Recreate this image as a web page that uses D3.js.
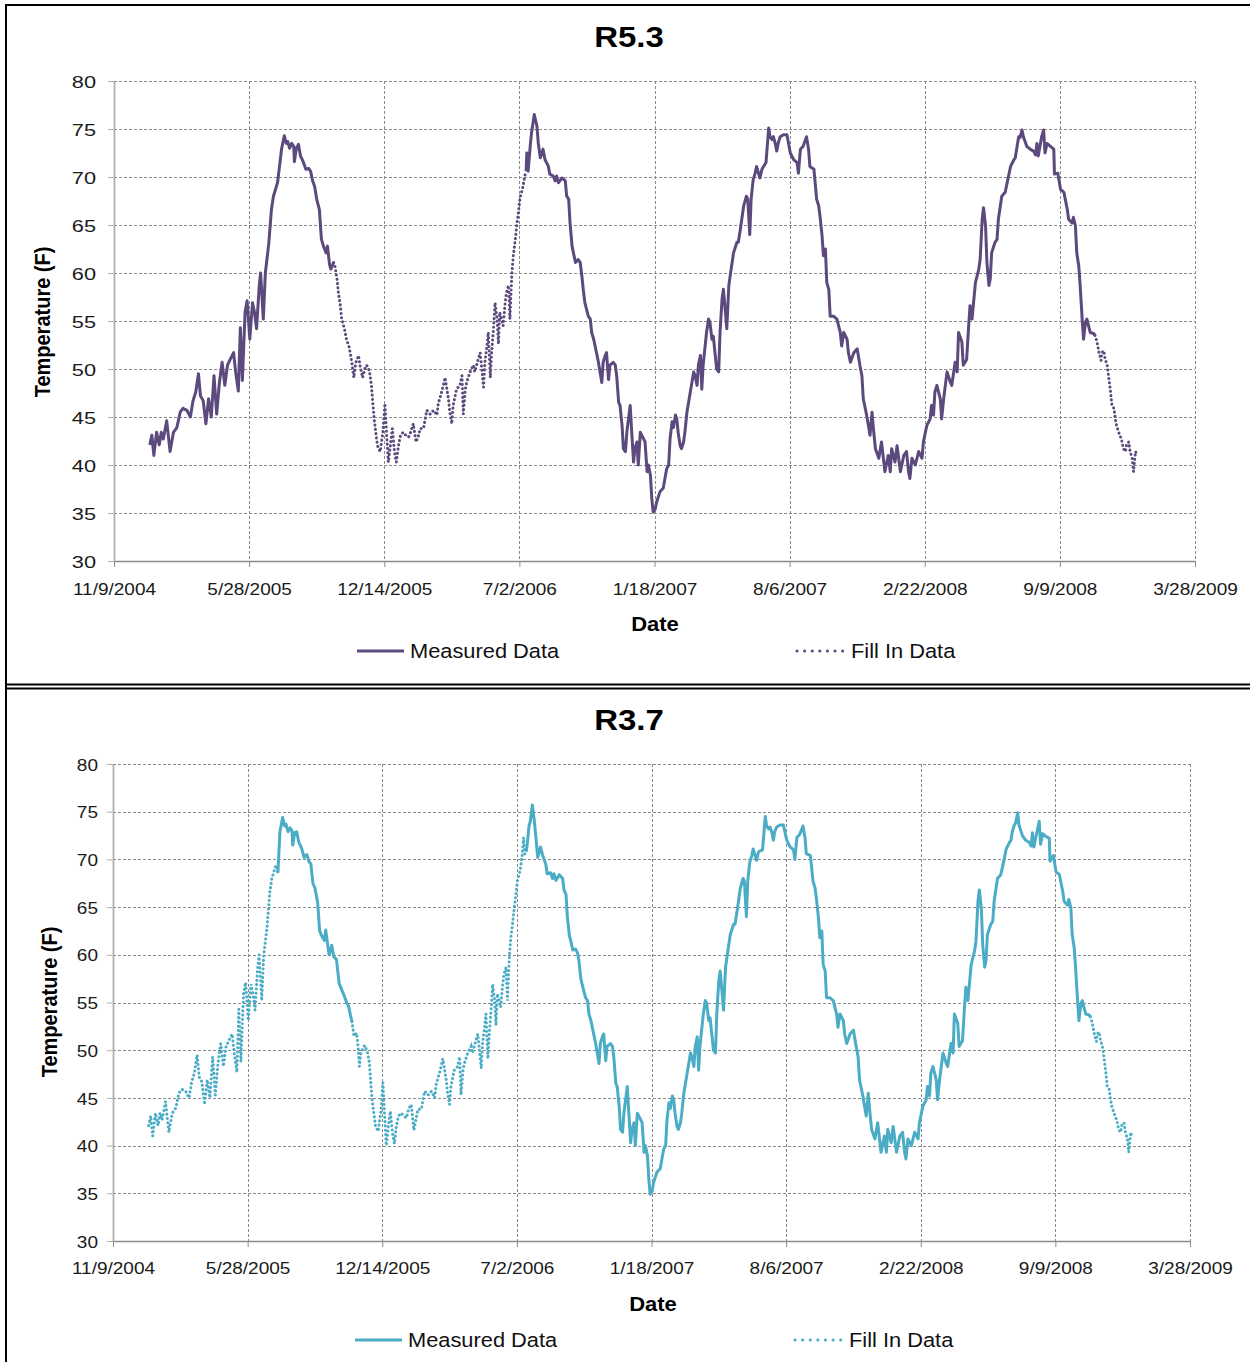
<!DOCTYPE html>
<html><head><meta charset="utf-8">
<script src="https://cdn.jsdelivr.net/npm/d3@7"></script>
<style>body{margin:0;background:#fff}svg{display:block}</style>
</head><body>
<svg id="c" width="1250" height="1362"></svg>
<script>
// ---------- DATA (Excel serial dates, temperature in F) ----------
const xTickSerials = [38300,38500,38700,38900,39100,39300,39500,39700,39900];
const xTickLabels = ["11/9/2004","5/28/2005","12/14/2005","7/2/2006","1/18/2007","8/6/2007","2/22/2008","9/9/2008","3/28/2009"];
const yTicks = [30,35,40,45,50,55,60,65,70,75,80];
const seriesNames = ["Measured Data","Fill In Data"];
const panelTitles = ["R5.3","R3.7"];

// R5.3 measured, segment 1
const r53Measured1 = [[38353,42.1],[38356,43.1],[38359,41.0],[38363,43.4],[38367,42.1],[38370,43.4],[38373,42.7],[38378,44.6],[38383,41.4],[38388,43.4],[38393,43.9],[38398,45.5],[38402,45.9],[38408,45.7],[38413,45.0],[38417,46.7],[38421,47.6],[38425,49.5],[38428,47.2],[38432,46.7],[38436,44.3],[38440,46.9],[38444,45.0],[38448,49.3],[38452,45.3],[38456,48.6],[38460,50.7],[38464,48.3],[38468,50.4],[38472,51.0],[38477,51.7],[38480,49.7],[38484,47.7],[38487,54.3],[38490,48.8],[38494,55.9],[38497,57.1],[38501,53.1],[38505,56.9],[38508,55.9],[38511,54.2],[38515,58.7],[38517,60.0],[38521,55.2],[38524,60.0],[38529,63.0],[38533,66.6],[38536,68.0],[38539,68.7],[38542,69.4],[38545,71.1],[38548,72.9],[38552,74.3],[38555,73.5],[38557,73.7],[38560,73.0],[38563,73.5],[38566,73.2],[38567,71.6],[38570,73.0],[38573,73.4],[38576,72.2],[38580,71.6],[38584,70.8],[38588,70.9],[38591,70.6],[38594,69.6],[38597,69.0],[38600,67.7],[38604,66.6],[38607,63.5],[38610,62.8],[38614,62.1],[38616,62.8],[38619,60.9],[38621,60.4],[38625,61.1]];
// R5.3 fill in, segment 1
const r53Fill1 = [[38625,61.1],[38627,60.7],[38630,59.4],[38632,58.0],[38635,56.6],[38637,55.2],[38641,54.2],[38644,53.1],[38648,52.3],[38652,50.7],[38655,49.1],[38658,50.7],[38662,51.4],[38664,50.4],[38668,49.1],[38671,50.0],[38674,50.4],[38678,49.8],[38681,48.3],[38683,46.5],[38685,44.8],[38688,43.1],[38690,42.0],[38694,41.4],[38698,43.4],[38701,46.4],[38703,43.8],[38706,40.3],[38709,42.0],[38712,43.8],[38715,41.4],[38718,40.3],[38721,42.0],[38724,43.1],[38728,43.4],[38732,43.1],[38736,42.9],[38739,43.4],[38743,44.3],[38747,42.4],[38751,43.1],[38753,43.8],[38758,43.8],[38763,45.7],[38768,45.3],[38773,45.7],[38778,45.2],[38780,46.4],[38785,47.6],[38790,49.1],[38795,46.9],[38797,45.5],[38800,44.3],[38802,46.2],[38807,47.9],[38812,48.3],[38815,49.3],[38817,45.3],[38820,47.9],[38822,48.6],[38827,49.7],[38832,50.4],[38834,49.7],[38839,51.0],[38842,51.7],[38847,48.1],[38849,50.7],[38852,52.4],[38854,53.8],[38857,49.1],[38859,51.7],[38862,54.5],[38864,56.9],[38867,55.2],[38869,52.6],[38871,55.9],[38876,54.5],[38879,56.9],[38881,58.0],[38884,58.7],[38886,55.2],[38889,60.0],[38891,61.8],[38894,63.5],[38896,64.9],[38899,66.6],[38901,67.8],[38905,68.9],[38908,70.1],[38910,70.6]];
// R5.3 measured, segment 2
const r53Measured2 = [[38910,70.6],[38911,72.5],[38913,70.6],[38916,73.2],[38918,74.6],[38922,76.5],[38926,75.3],[38928,73.5],[38931,72.0],[38935,72.9],[38938,71.8],[38943,71.1],[38945,70.3],[38950,70.1],[38953,69.6],[38955,70.1],[38958,69.4],[38963,69.9],[38968,69.6],[38970,68.0],[38973,67.7],[38975,65.2],[38978,62.8],[38980,62.1],[38983,61.1],[38987,61.4],[38990,61.1],[38992,60.0],[38995,58.0],[38997,56.9],[39002,55.5],[39005,55.2],[39007,53.8],[39010,53.1],[39015,51.4],[39017,50.7],[39022,48.6],[39024,50.7],[39027,51.4],[39029,51.7],[39032,48.9],[39034,50.4],[39039,50.7],[39042,50.4],[39044,49.3],[39047,46.5],[39049,46.2],[39052,44.1],[39054,41.7],[39057,41.4],[39059,43.4],[39064,46.2],[39066,43.8],[39069,40.3],[39071,41.7],[39074,42.4],[39076,40.0],[39079,43.4],[39084,42.7],[39086,42.4],[39089,39.3],[39091,40.0],[39094,38.9],[39096,36.5],[39098,35.1],[39101,35.4],[39103,36.1],[39108,37.2],[39113,37.6],[39118,39.6],[39121,40.0],[39123,42.7],[39126,44.5],[39128,43.9],[39131,45.2],[39133,44.8],[39135,43.4],[39138,42.0],[39140,41.7],[39143,42.4],[39145,43.4],[39148,45.5],[39153,47.6],[39158,49.7],[39160,49.3],[39163,48.3],[39165,50.4],[39168,51.4],[39170,47.9],[39172,50.4],[39177,53.8],[39180,55.2],[39182,54.9],[39185,53.1],[39187,53.4],[39190,51.4],[39192,50.0],[39195,49.7],[39197,53.8],[39200,57.3],[39202,58.3],[39205,55.9],[39207,54.2],[39210,58.7],[39212,59.7],[39217,62.1],[39222,63.2],[39224,63.2],[39227,64.5],[39232,67.0],[39236,68.0],[39238,67.7],[39241,64.0],[39243,67.7],[39246,69.7],[39249,70.4],[39251,71.1],[39256,69.9],[39259,70.8],[39265,71.5],[39269,75.1],[39271,74.2],[39274,73.9],[39276,74.2],[39279,73.4],[39281,72.7],[39283,73.5],[39286,74.2],[39291,74.4],[39296,74.4],[39301,72.5],[39306,71.8],[39311,71.5],[39313,70.4],[39316,72.9],[39320,73.2],[39325,74.2],[39328,72.9],[39330,71.1],[39336,70.8],[39340,67.7],[39343,67.0],[39345,65.9],[39348,63.9],[39350,61.8],[39353,62.5],[39355,59.0],[39358,58.3],[39360,55.5],[39365,55.5],[39370,55.2],[39375,53.8],[39377,52.4],[39380,53.8],[39385,53.1],[39387,51.7],[39390,50.7],[39395,51.7],[39400,52.1],[39404,50.4],[39407,49.3],[39409,46.9],[39414,45.2],[39419,43.1],[39422,45.5],[39424,43.8],[39427,41.7],[39432,40.7],[39436,42.4],[39441,39.3],[39446,41.0],[39449,39.3],[39451,41.7],[39456,40.3],[39459,42.0],[39464,39.3],[39469,41.0],[39473,41.4],[39476,39.3],[39478,38.6],[39481,40.7],[39486,40.0],[39491,41.4],[39496,40.7],[39498,42.4],[39503,44.1],[39508,44.8],[39510,46.2],[39513,45.2],[39515,47.6],[39518,48.3],[39523,46.9],[39525,44.8],[39528,46.9],[39533,49.7],[39538,48.6],[39540,48.3],[39545,50.7],[39548,49.7],[39550,53.8],[39555,52.8],[39557,50.4],[39562,51.0],[39565,54.5],[39567,56.6],[39570,55.2],[39575,59.0],[39580,60.4],[39582,61.4],[39585,65.6],[39587,66.8],[39590,64.9],[39592,61.1],[39595,58.7],[39597,59.4],[39599,62.1],[39604,63.2],[39607,63.5],[39609,65.6],[39614,68.0],[39619,68.4],[39622,69.4],[39627,71.1],[39632,71.8],[39634,72.0],[39636,72.9],[39639,74.2],[39641,74.1],[39644,74.9],[39646,74.2],[39651,73.2],[39656,72.9],[39661,72.7],[39664,72.3],[39666,73.5],[39668,72.2],[39673,74.2],[39676,74.9],[39678,72.5],[39681,73.5],[39686,73.2],[39691,72.9],[39692,70.3],[39697,70.4],[39701,68.7],[39706,68.4],[39711,66.6],[39713,65.6],[39718,65.2],[39720,65.8],[39723,64.9],[39725,62.1],[39728,60.7],[39730,58.7],[39733,55.2],[39735,53.1],[39738,54.9],[39740,55.2],[39745,53.8],[39750,53.7],[39752,53.5]];
// R5.3 fill in, segment 2
const r53Fill2 = [[39752,53.5],[39755,52.8],[39758,51.7],[39761,50.9],[39762,51.7],[39765,51.9],[39767,51.0],[39770,50.4],[39772,49.3],[39775,47.6],[39777,46.2],[39780,45.9],[39782,44.8],[39784,44.1],[39787,43.4],[39789,43.1],[39792,42.4],[39794,41.7],[39797,41.4],[39799,42.2],[39802,42.4],[39804,41.4],[39807,40.7],[39809,39.3],[39812,41.4],[39814,41.0]];

// R3.7 fill in, segment 1
const r37Fill1 = [[38353,42.1],[38356,43.1],[38359,41.0],[38363,43.4],[38367,42.1],[38370,43.4],[38373,42.7],[38378,44.6],[38383,41.4],[38388,43.4],[38393,43.9],[38398,45.5],[38402,45.9],[38408,45.7],[38413,45.0],[38417,46.7],[38421,47.6],[38425,49.5],[38428,47.2],[38432,46.7],[38436,44.3],[38440,46.9],[38444,45.0],[38448,49.3],[38452,45.3],[38456,48.6],[38460,50.7],[38464,48.3],[38468,50.4],[38472,51.0],[38477,51.7],[38480,49.7],[38484,47.7],[38487,54.3],[38490,48.8],[38494,55.9],[38497,57.1],[38501,53.1],[38505,56.9],[38508,55.9],[38511,54.2],[38515,58.7],[38517,60.0],[38521,55.2],[38524,60.0],[38529,63.0],[38533,66.6],[38536,68.0],[38539,68.7],[38542,69.4],[38545,68.6]];
// R3.7 measured, segment 1
const r37Measured1 = [[38545,68.6],[38548,72.9],[38552,74.4],[38555,73.5],[38557,73.7],[38560,72.9],[38563,73.3],[38566,73.0],[38567,71.5],[38570,72.8],[38573,72.9],[38576,71.8],[38580,71.2],[38584,70.2],[38588,70.5],[38591,69.8],[38594,69.5],[38597,67.5],[38600,67.0],[38604,65.5],[38607,62.5],[38610,62.0],[38614,61.5],[38616,62.6],[38619,61.0],[38621,60.0],[38625,61.0],[38628,59.8],[38632,59.5],[38636,57.0],[38640,56.3],[38644,55.6],[38647,55.0],[38650,54.6],[38653,53.6],[38655,53.0]];
// R3.7 fill in, segment 2
const r37Fill2 = [[38655,53.0],[38658,51.5],[38662,51.8],[38664,50.4],[38666,48.3],[38668,49.6],[38671,50.2],[38674,50.5],[38678,49.8],[38681,48.6],[38683,46.5],[38685,44.8],[38688,43.1],[38690,42.0],[38694,41.5],[38698,43.6],[38701,46.6],[38703,43.8],[38706,40.0],[38709,42.0],[38712,43.6],[38715,41.4],[38718,40.2],[38721,42.0],[38724,43.1],[38728,43.4],[38732,43.1],[38736,42.9],[38739,43.8],[38743,44.3],[38747,41.6],[38751,43.1],[38753,43.8],[38758,43.8],[38763,45.7],[38768,45.3],[38773,45.7],[38778,45.0],[38780,46.4],[38785,47.6],[38790,49.1],[38795,46.9],[38797,45.5],[38800,44.3],[38802,46.2],[38807,47.9],[38812,48.3],[38815,49.3],[38817,45.3],[38820,47.9],[38822,48.6],[38827,49.7],[38832,50.4],[38834,49.7],[38839,51.0],[38842,51.7],[38847,48.1],[38849,50.7],[38852,52.4],[38854,53.8],[38857,49.1],[38859,51.7],[38862,54.5],[38864,56.9],[38867,55.2],[38869,52.6],[38871,55.9],[38876,54.5],[38879,56.9],[38881,58.0],[38884,58.7],[38886,55.2],[38889,60.0],[38891,61.8],[38894,63.5],[38896,64.9],[38899,66.6],[38901,67.8],[38905,68.9],[38908,70.5],[38910,72.3],[38912,70.5],[38914,70.8]];
// R3.7 measured, segment 2
const r37Measured2 = [[38914,70.8],[38916,72.0],[38918,73.5],[38920,74.0],[38923,75.7],[38926,74.0],[38928,72.5],[38931,70.2],[38935,71.3],[38938,70.5],[38943,69.5],[38945,68.5],[38950,68.6],[38953,68.0],[38955,68.5],[38958,67.8],[38963,68.4],[38968,68.0],[38970,66.8],[38973,66.3],[38975,64.0],[38978,62.0],[38980,61.5],[38983,60.5],[38987,60.6],[38990,60.2],[38992,59.5],[38995,57.5],[38997,56.9],[39002,55.5],[39005,55.2],[39007,53.8],[39010,53.1],[39015,51.4],[39017,50.7],[39022,48.6],[39024,50.7],[39027,51.4],[39029,51.7],[39032,48.9],[39034,50.4],[39039,50.7],[39042,50.4],[39044,49.3],[39047,46.5],[39049,46.2],[39052,44.1],[39054,41.7],[39057,41.4],[39059,43.4],[39064,46.2],[39066,43.8],[39069,40.3],[39071,41.7],[39074,42.4],[39076,40.0],[39079,43.4],[39084,42.7],[39086,42.4],[39089,39.3],[39091,40.0],[39094,38.9],[39096,36.5],[39098,34.9],[39101,35.2],[39103,36.1],[39108,37.2],[39113,37.6],[39118,39.6],[39121,40.0],[39123,42.7],[39126,44.5],[39128,43.9],[39131,45.2],[39133,44.8],[39135,43.4],[39138,42.0],[39140,41.7],[39143,42.4],[39145,43.4],[39148,45.5],[39153,47.6],[39158,49.7],[39160,49.3],[39163,48.3],[39165,50.4],[39168,51.4],[39170,47.9],[39172,50.4],[39177,53.8],[39180,55.2],[39182,54.9],[39185,53.1],[39187,53.4],[39190,51.4],[39192,50.0],[39195,49.7],[39197,53.8],[39200,57.3],[39202,58.3],[39205,55.9],[39207,54.2],[39210,58.7],[39212,59.7],[39217,62.1],[39222,63.2],[39224,63.2],[39227,64.5],[39232,67.0],[39236,68.0],[39238,67.7],[39241,64.0],[39243,67.7],[39246,69.7],[39249,70.4],[39251,71.1],[39256,69.9],[39259,70.8],[39265,71.0],[39269,74.5],[39271,73.5],[39274,73.2],[39276,73.4],[39279,72.8],[39281,72.0],[39283,72.9],[39286,73.4],[39291,73.6],[39296,73.6],[39301,72.0],[39306,71.3],[39311,71.0],[39313,70.0],[39316,72.3],[39320,72.6],[39325,73.5],[39328,72.3],[39330,70.6],[39336,70.4],[39340,67.7],[39343,67.0],[39345,65.9],[39348,63.9],[39350,61.8],[39353,62.5],[39355,59.0],[39358,58.3],[39360,55.5],[39365,55.5],[39370,55.2],[39375,53.8],[39377,52.4],[39380,53.8],[39385,53.1],[39387,51.7],[39390,50.7],[39395,51.7],[39400,52.1],[39404,50.4],[39407,49.3],[39409,46.9],[39414,45.2],[39419,43.1],[39422,45.5],[39424,43.8],[39427,41.7],[39432,40.7],[39436,42.4],[39441,39.3],[39446,41.0],[39449,39.3],[39451,41.7],[39456,40.3],[39459,42.0],[39464,39.3],[39469,41.0],[39473,41.4],[39476,39.3],[39478,38.6],[39481,40.7],[39486,40.0],[39491,41.4],[39496,40.7],[39498,42.4],[39503,44.1],[39508,44.8],[39510,46.2],[39513,45.2],[39515,47.6],[39518,48.3],[39523,46.9],[39525,44.8],[39528,46.9],[39533,49.7],[39538,48.6],[39540,48.3],[39545,50.7],[39548,49.7],[39550,53.8],[39555,52.8],[39557,50.4],[39562,51.0],[39565,54.5],[39567,56.6],[39570,55.2],[39575,59.0],[39580,60.4],[39582,61.4],[39585,65.6],[39587,66.8],[39590,64.9],[39592,61.1],[39595,58.7],[39597,59.4],[39599,62.1],[39604,63.2],[39607,63.5],[39609,65.6],[39614,68.0],[39619,68.4],[39622,69.4],[39627,71.1],[39632,71.8],[39634,72.0],[39636,72.9],[39639,73.6],[39641,73.8],[39644,74.9],[39646,73.6],[39651,72.5],[39656,72.0],[39661,71.8],[39664,71.4],[39666,72.8],[39668,71.3],[39673,73.0],[39676,74.0],[39678,71.6],[39681,72.7],[39686,72.4],[39691,72.2],[39692,69.8],[39697,70.4],[39701,68.7],[39706,68.4],[39711,66.6],[39713,65.6],[39718,65.2],[39720,65.8],[39723,64.9],[39725,62.1],[39728,60.7],[39730,58.7],[39733,55.2],[39735,53.1],[39738,54.9],[39740,55.2],[39745,53.8],[39750,53.7],[39752,53.5]];
// R3.7 fill in, segment 3
const r37Fill3 = [[39752,53.5],[39755,52.8],[39758,51.7],[39761,50.9],[39762,51.7],[39765,51.9],[39767,51.0],[39770,50.4],[39772,49.3],[39775,47.6],[39777,46.2],[39780,45.9],[39782,44.8],[39784,44.1],[39787,43.4],[39789,43.1],[39792,42.4],[39794,41.7],[39797,41.4],[39799,42.2],[39802,42.4],[39804,41.4],[39807,40.7],[39809,39.3],[39812,41.4],[39814,40.8]];

// ---------- DRAWING ----------
const FONT = "'Liberation Sans', Arial, Helvetica, sans-serif";
const svg = d3.select("#c");
const toDate = s => new Date(Date.UTC(1899, 11, 30) + s * 86400000);

function stext(g, x, y, str, o = {}) {
  const sx = o.sx || 1.12;
  return g.append("text")
    .attr("transform", `translate(${x},${y}) scale(${sx},1)` + (o.rotate ? ` rotate(${o.rotate})` : ""))
    .attr("text-anchor", o.anchor || "start")
    .attr("font-family", FONT)
    .attr("font-size", o.size || 17)
    .attr("font-weight", o.weight || "normal")
    .attr("fill", o.fill || "#111")
    .text(str);
}

function drawPanel(p) {
  const g = svg.append("g");
  const x = d3.scaleUtc()
    .domain([toDate(xTickSerials[0]), toDate(xTickSerials[xTickSerials.length - 1])])
    .range([p.left, p.right]);
  const y = d3.scaleLinear()
    .domain([yTicks[0], yTicks[yTicks.length - 1]])
    .range([p.bottom, p.top]);

  // gridlines
  g.append("g").selectAll("line").data(yTicks.slice(1)).join("line")
    .attr("x1", p.left).attr("x2", p.right)
    .attr("y1", d => Math.round(y(d)) + 0.5).attr("y2", d => Math.round(y(d)) + 0.5)
    .attr("stroke", "#8a8a8a").attr("stroke-width", 1).attr("stroke-dasharray", "3,2");
  g.append("g").selectAll("line").data(xTickSerials.slice(1)).join("line")
    .attr("x1", d => Math.round(x(toDate(d))) + 0.5).attr("x2", d => Math.round(x(toDate(d))) + 0.5)
    .attr("y1", p.top).attr("y2", p.bottom)
    .attr("stroke", "#8a8a8a").attr("stroke-width", 1).attr("stroke-dasharray", "3,2");

  // x axis
  const xa = d3.axisBottom(x)
    .tickValues(xTickSerials.map(toDate))
    .tickFormat((d, i) => xTickLabels[i])
    .tickSizeInner(6).tickSizeOuter(0);
  const gx = g.append("g").attr("transform", `translate(0,${p.bottom})`).call(xa);
  gx.select(".domain").attr("stroke", "#8c8c8c").attr("stroke-width", 1.5);
  gx.selectAll(".tick line").attr("stroke", "#8c8c8c").attr("stroke-width", 1);
  gx.selectAll(".tick text")
    .attr("y", p.xLabelOffset).attr("dy", 0)
    .attr("font-family", FONT).attr("font-size", 17).attr("fill", "#1a1a1a")
    .attr("transform", "scale(1.12,1)");

  // y axis
  const ya = d3.axisLeft(y).tickValues(yTicks).tickFormat(d3.format("d"))
    .tickSizeInner(6).tickSizeOuter(0);
  const gy = g.append("g").attr("transform", `translate(${p.left},0)`).call(ya);
  gy.select(".domain").attr("stroke", "#b0b0b0").attr("stroke-width", 1.8);
  gy.selectAll(".tick line").attr("stroke", "#b0b0b0").attr("stroke-width", 1);
  gy.selectAll(".tick text")
    .attr("x", -p.yLabelGap / p.yLabelSx).attr("dy", "0.36em")
    .attr("font-family", FONT).attr("font-size", 17).attr("fill", "#1a1a1a")
    .attr("transform", `scale(${p.yLabelSx},1)`);

  // data lines
  const line = d3.line().x(d => x(toDate(d[0]))).y(d => y(d[1]));
  p.fill.forEach(seg => g.append("path").attr("d", line(seg))
    .attr("fill", "none").attr("stroke", p.color).attr("stroke-width", 3)
    .attr("stroke-linecap", "round").attr("stroke-dasharray", "0.1,4.2"));
  p.measured.forEach(seg => g.append("path").attr("d", line(seg))
    .attr("fill", "none").attr("stroke", p.color).attr("stroke-width", 3)
    .attr("stroke-linejoin", "round"));

  // titles
  stext(g, p.titleX, p.titleY, p.title, { size: 30, weight: "bold", anchor: "middle", sx: 1.1, fill: "#000" });
  stext(g, p.xTitleX, p.xTitleY, "Date", { size: 20, weight: "bold", anchor: "middle", sx: 1.1, fill: "#000" });
  stext(g, p.yTitleX, p.yTitleY, "Temperature (F)", { size: 20, weight: "bold", anchor: "middle", sx: 1.1, rotate: -90, fill: "#000" });

  // legend
  const lg = g.append("g");
  lg.append("line").attr("x1", p.leg1X).attr("x2", p.leg1X + 47).attr("y1", p.legY).attr("y2", p.legY)
    .attr("stroke", p.color).attr("stroke-width", 3);
  stext(lg, p.leg1X + 53, p.legY + 7, seriesNames[0], { size: 19.5, fill: "#111" });
  lg.append("line").attr("x1", p.leg2X).attr("x2", p.leg2X + 47).attr("y1", p.legY).attr("y2", p.legY)
    .attr("stroke", p.color).attr("stroke-width", 3).attr("stroke-linecap", "round").attr("stroke-dasharray", "0.1,7.5");
  stext(lg, p.leg2X + 54, p.legY + 7, seriesNames[1], { size: 19.5, fill: "#111" });
}

drawPanel({
  title: panelTitles[0], color: "#5c4a7e",
  left: 114, right: 1195, top: 81, bottom: 561,
  xLabelOffset: 34, yLabelGap: 18, yLabelSx: 1.28,
  titleX: 629, titleY: 47, xTitleX: 655, xTitleY: 631, yTitleX: 50, yTitleY: 322,
  legY: 651, leg1X: 357, leg2X: 797,
  measured: [r53Measured1, r53Measured2], fill: [r53Fill1, r53Fill2]
});
drawPanel({
  title: panelTitles[1], color: "#4bacc6",
  left: 113, right: 1190, top: 764, bottom: 1241,
  xLabelOffset: 33, yLabelGap: 15, yLabelSx: 1.12,
  titleX: 629, titleY: 730, xTitleX: 653, xTitleY: 1311, yTitleX: 57, yTitleY: 1002,
  legY: 1340, leg1X: 355, leg2X: 795,
  measured: [r37Measured1, r37Measured2], fill: [r37Fill1, r37Fill2, r37Fill3]
});

// frames
const fr = svg.append("g").attr("stroke", "#000").attr("stroke-width", 2).attr("fill", "none");
fr.append("line").attr("x1", 5).attr("x2", 1250).attr("y1", 5).attr("y2", 5);
fr.append("line").attr("x1", 6).attr("x2", 6).attr("y1", 4).attr("y2", 1362);
fr.append("line").attr("x1", 5).attr("x2", 1250).attr("y1", 684.5).attr("y2", 684.5);
fr.append("line").attr("x1", 5).attr("x2", 1250).attr("y1", 688.5).attr("y2", 688.5);
</script>
</body></html>
